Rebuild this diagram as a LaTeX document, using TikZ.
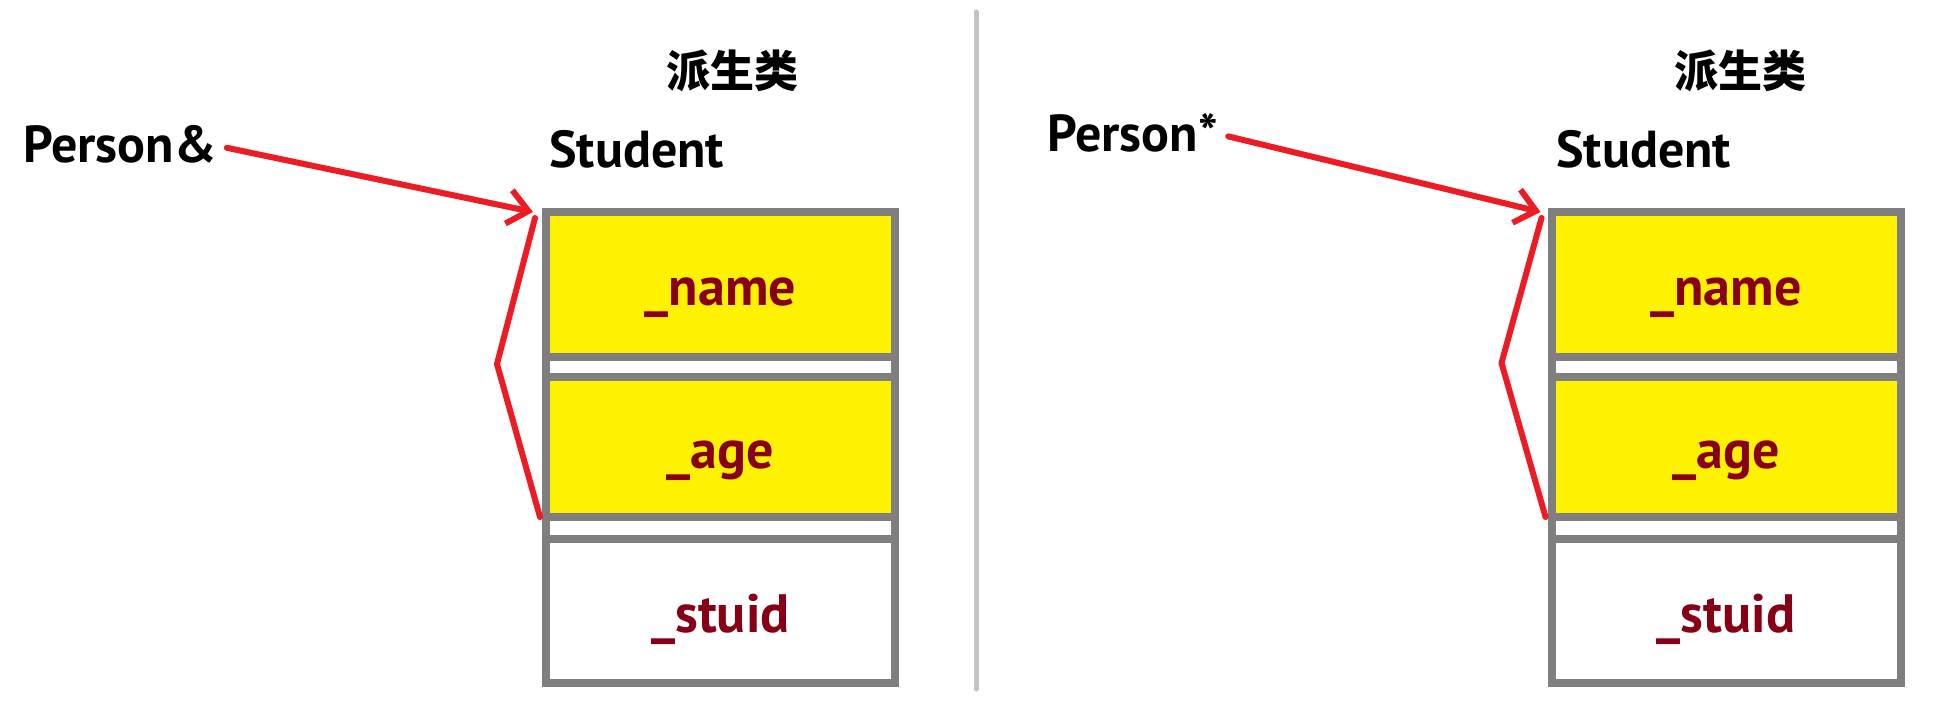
\documentclass[tikz,border=0pt]{standalone}
\usepackage{fontspec}
\setmainfont{PT Sans}
\newfontfamily\cjk{Noto Sans CJK SC}
\usepackage{tikz}
\usetikzlibrary{arrows.meta,positioning,calc}
\definecolor{boxgray}{RGB}{127,127,127}
\definecolor{fieldyellow}{RGB}{255,242,0}
\definecolor{labelred}{RGB}{136,0,21}
\definecolor{pointred}{RGB}{237,28,36}
\definecolor{divgray}{RGB}{195,195,195}
\tikzset{
    memcol/.style={
        rectangle,
        draw=boxgray,
        line width=4pt,
        fill=white,
        minimum width=174.5pt,
        minimum height=235.5pt,
        outer sep=2pt,
    },
    memfield/.style={
        rectangle,
        draw=boxgray,
        line width=4pt,
        fill=fieldyellow,
        minimum width=174.5pt,
        outer sep=2pt,
        text=labelred,
        font=\bfseries\fontsize{27pt}{32pt}\selectfont,
        text height=21pt,
        text depth=0pt,
    },
    memfree/.style={
        memfield,
        fill=white,
    },
    varname/.style={
        font=\bfseries\fontsize{26pt}{31pt}\selectfont,
        inner sep=0pt,
        anchor=base west,
    },
    heading/.style={
        font=\cjk\bfseries\fontsize{22pt}{26pt}\selectfont,
        inner sep=0pt,
    },
    pointer/.style={
        draw=pointred,
        line width=3pt,
        line cap=round,
        line join=round,
        -{Straight Barb[length=10pt,width=17pt]},
    },
    slice/.style={
        draw=pointred,
        line width=3pt,
        line cap=round,
        line join=round,
    },
    divider/.style={
        draw=divgray,
        line width=2.5pt,
        line cap=round,
    },
}
\begin{document}
\begin{tikzpicture}[x=0.5pt,y=-0.5pt]
    \fill[white] (0,0) rectangle (1947,711);
    \useasboundingbox (0,0) rectangle (1947,711);
    % left: reference
    \node [heading] (headL) at (732,71) {派生类};
    \node [varname] (studentL) at (549,168) {Student};
    \node [varname] (personL) at (23,163) {Person\&};
    \node [memcol] (colL) at (720.5,447.5) {};
    \node [memfield, minimum height=72.5pt] (nameL) at (720.5,284.5) {\_name\hspace{8pt}};
    \node [memfield, minimum height=70pt, below=6pt of nameL] (ageL) {\_age\hspace{8pt}};
    \node [memfree, minimum height=72pt, below=7pt of ageL] (stuidL) {\_stuid\hspace{8pt}};
    \coordinate (tipL) at ($(nameL.north west)+(-9,4)$);
    \coordinate (topL) at ($(nameL.north west)+(-7,10)$);
    \coordinate (kinkL) at ($(nameL.south west)+(-45,3)$);
    \coordinate (endL) at ($(ageL.south west)+(-2,-4)$);
    \draw [pointer] ($(personL.east)+(10,3)$) -- (tipL);
    \draw [slice] (topL) -- (kinkL) -- (endL);
    % divider
    \coordinate (sepTop) at (976,12);
    \coordinate (sepBot) at (976,689);
    \draw [divider] (sepTop) -- (sepBot);
    % right: pointer
    \node [heading] (headR) at (1740,71) {派生类};
    \node [varname] (studentR) at (1556,168) {Student};
    \node [varname] (personR) at (1047,152) {Person*};
    \node [memcol] (colR) at (1726,447.5) {};
    \node [memfield, minimum height=72.5pt] (nameR) at (1726,284.5) {\_name\hspace{8pt}};
    \node [memfield, minimum height=70pt, below=6pt of nameR] (ageR) {\_age\hspace{8pt}};
    \node [memfree, minimum height=72pt, below=7pt of ageR] (stuidR) {\_stuid\hspace{8pt}};
    \coordinate (tipR) at ($(nameR.north west)+(-7,4)$);
    \coordinate (topR) at ($(nameR.north west)+(-6,10)$);
    \coordinate (kinkR) at ($(nameR.south west)+(-46,2)$);
    \coordinate (endR) at ($(ageR.south west)+(-2,-4)$);
    \draw [pointer] ($(personR.east)+(10,3)$) -- (tipR);
    \draw [slice] (topR) -- (kinkR) -- (endR);
\end{tikzpicture}
\end{document}
